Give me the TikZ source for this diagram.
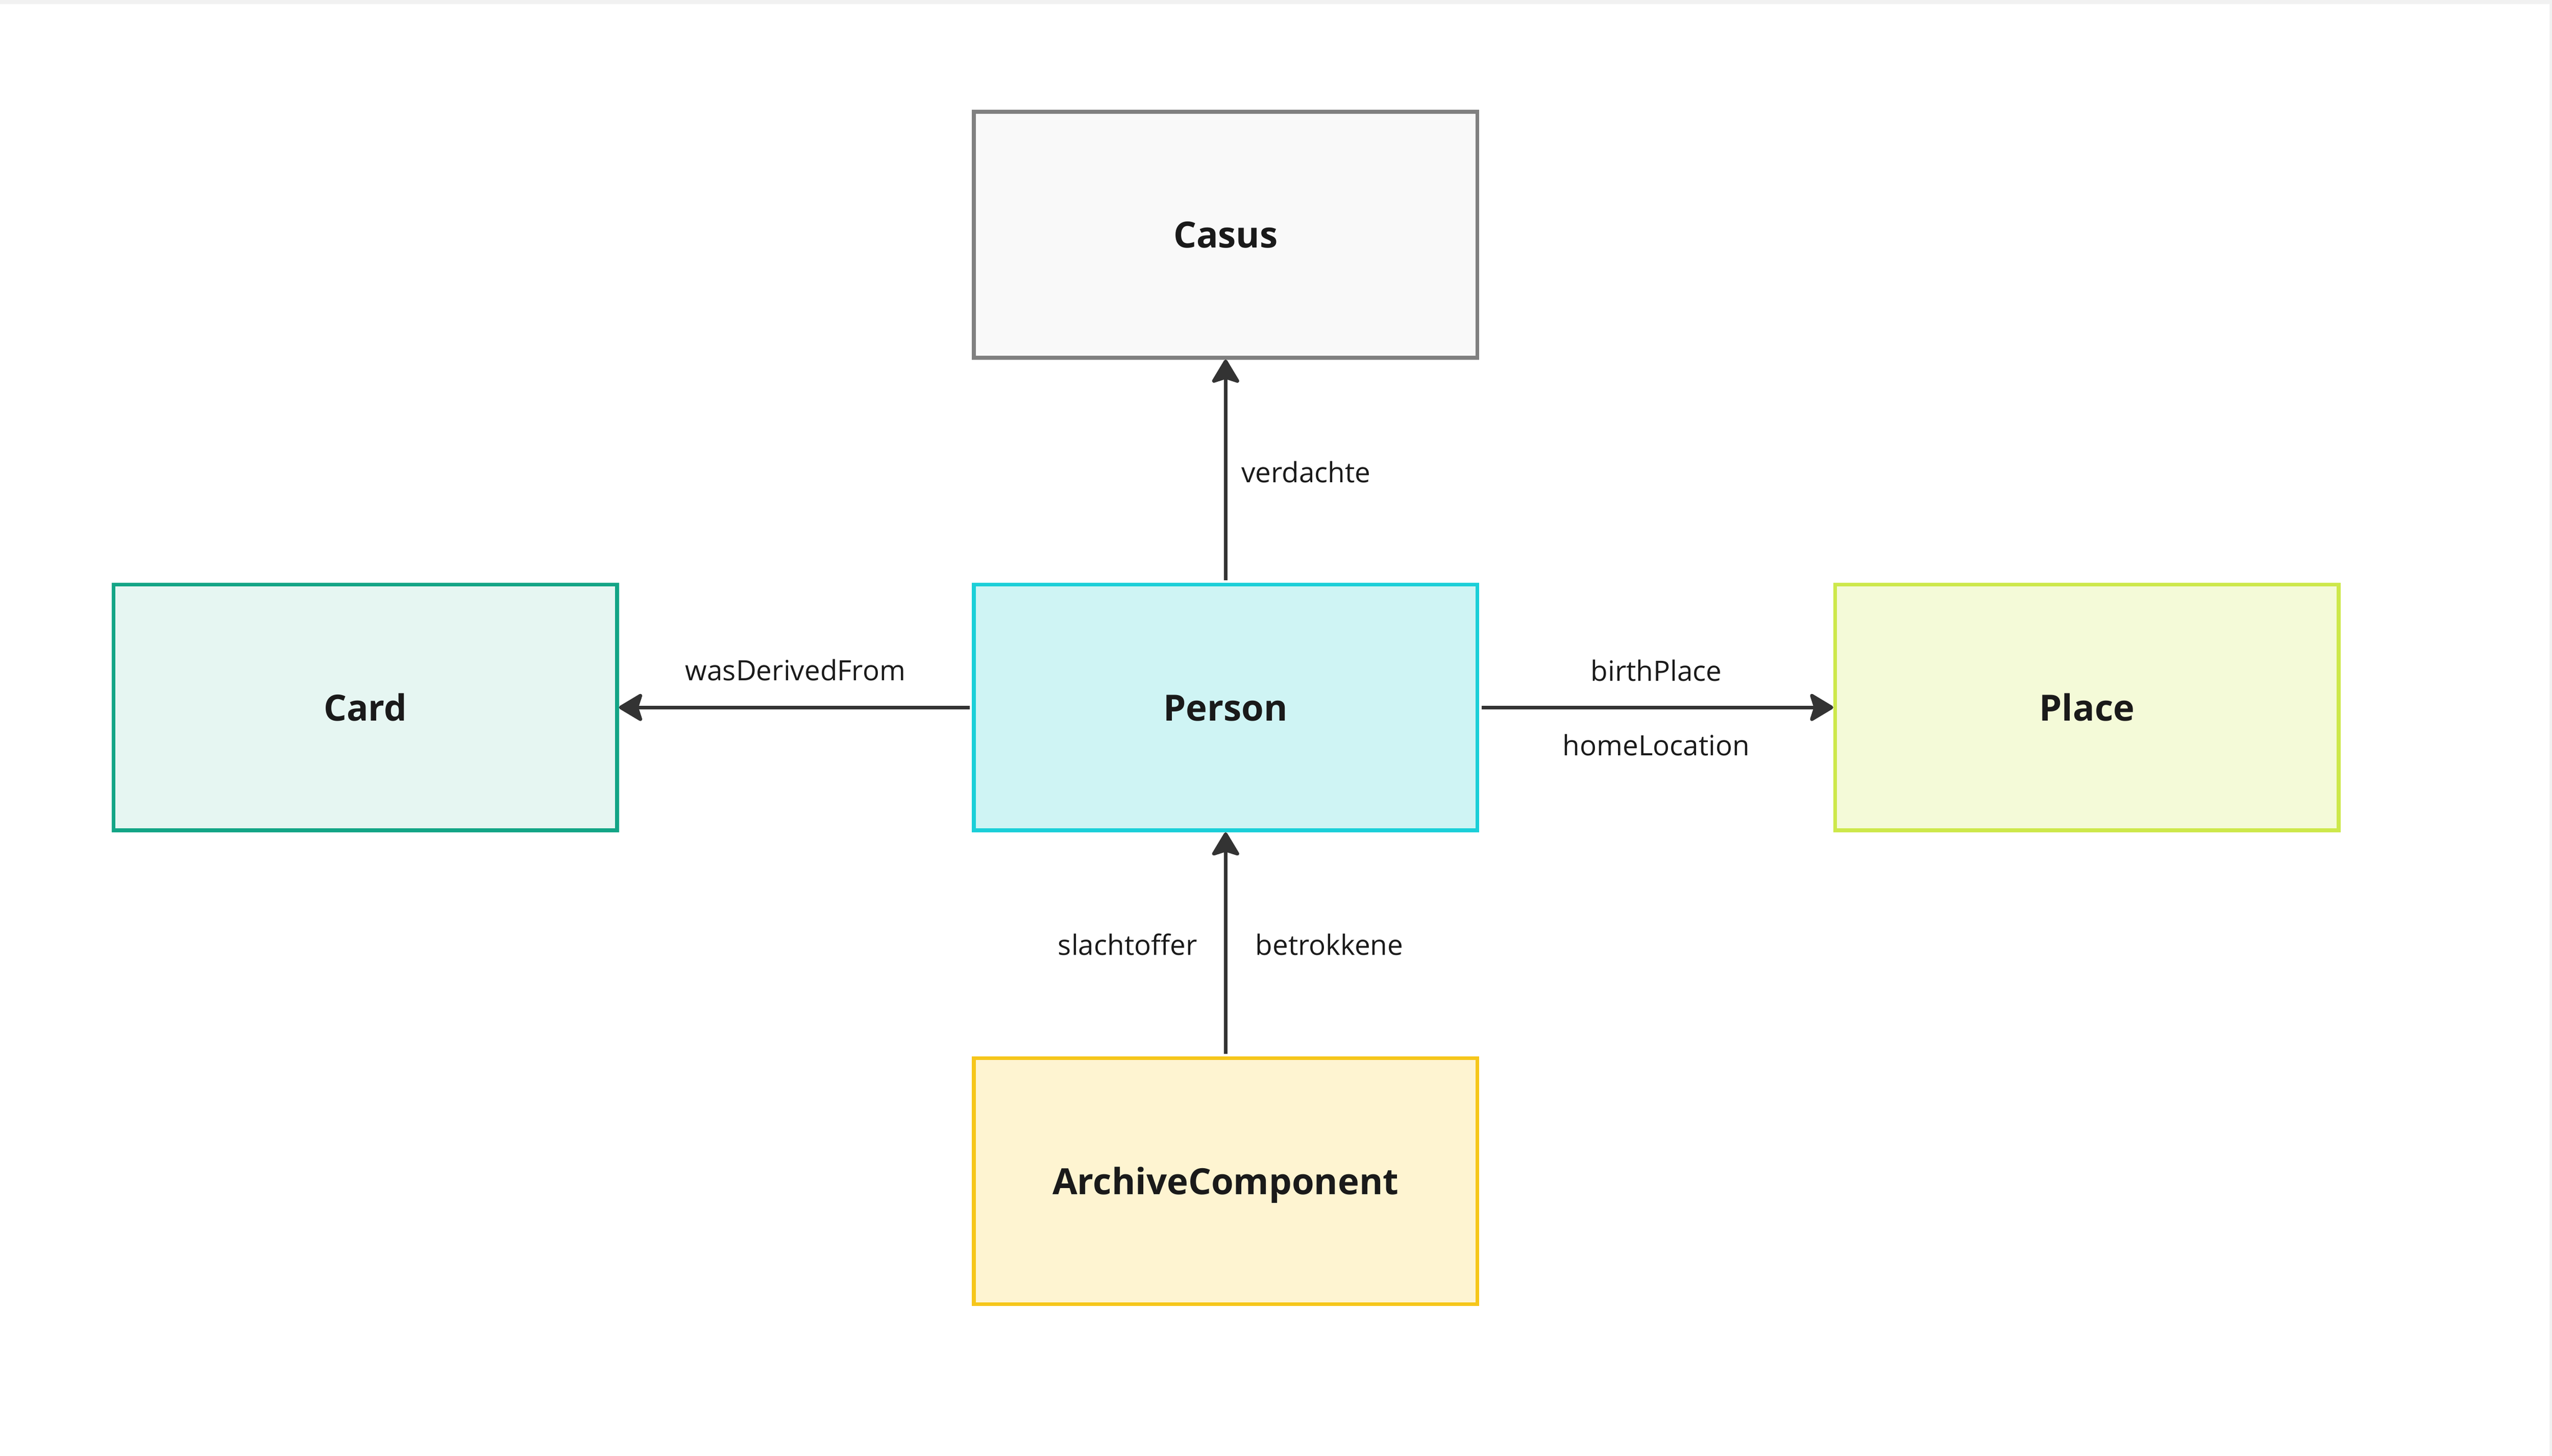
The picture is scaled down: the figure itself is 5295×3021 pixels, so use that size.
\documentclass[tikz,border=0pt]{standalone}
\usepackage{fontspec}
\setmainfont{Open Sans}
\usetikzlibrary{arrows.meta}
\definecolor{casusfill}{HTML}{F9F9F9}
\definecolor{casusdraw}{HTML}{808080}
\definecolor{personfill}{HTML}{CFF4F4}
\definecolor{persondraw}{HTML}{1BCFD8}
\definecolor{cardfill}{HTML}{E6F6F2}
\definecolor{carddraw}{HTML}{13A586}
\definecolor{placefill}{HTML}{F4FAD8}
\definecolor{placedraw}{HTML}{CDE84B}
\definecolor{archfill}{HTML}{FEF4D1}
\definecolor{archdraw}{HTML}{F6C61A}
\definecolor{linedark}{HTML}{333333}
\definecolor{textdark}{HTML}{1A1A1A}
\definecolor{framegray}{HTML}{F1F1F1}
\begin{document}
\begin{tikzpicture}[x=0.01cm,y=-0.01cm,
  box/.style={draw, rectangle, line width=0.08cm, minimum width=10.44cm,
    minimum height=5.10cm, inner sep=0pt, text=textdark,
    font=\fontsize{21.3}{26}\selectfont\bfseries, text height=0.55cm, text depth=0pt},
  conn/.style={draw=linedark, line width=0.075cm,
    -{Stealth[length=0.54cm, width=0.64cm, inset=0.1cm, round]}},
  lbl/.style={font=\fontsize{16.5}{19}\selectfont, text=textdark, inner sep=0pt}]
\useasboundingbox (0,0) rectangle (5295,3021);
\fill[white] (0,0) rectangle (5295,3021);
\fill[framegray] (0,0) rectangle (5295,8);
\fill[framegray] (5290,0) rectangle (5295,3021);
\node[box, fill=casusfill, draw=casusdraw] (casus) at (2543,487) {Casus};
\node[box, fill=personfill, draw=persondraw] (person) at (2543,1468) {Person};
\node[box, fill=cardfill, draw=carddraw] (card) at (758,1468) {Card};
\node[box, fill=placefill, draw=placedraw] (place) at (4330,1468) {Place};
\node[box, fill=archfill, draw=archdraw] (arch) at (2543,2451) {ArchiveComponent};
\draw[conn, shorten <=0.05cm] (person.north) -- node[lbl, anchor=base west, xshift=0.29cm, yshift=-0.235cm]{verdachte} (casus.south);
\draw[conn, shorten <=0.05cm] (person.west) -- node[lbl, anchor=base, yshift=0.56cm]{wasDerivedFrom} (card.east);
\draw[conn, shorten <=0.05cm] (person.east) -- node[lbl, anchor=base, yshift=0.55cm]{birthPlace} node[lbl, anchor=base, yshift=-1.0cm]{homeLocation} (place.west);
\draw[conn, shorten <=0.05cm] (arch.north) -- node[lbl, anchor=base east, xshift=-0.55cm, yshift=-0.225cm]{slachtoffer} node[lbl, anchor=base west, xshift=0.58cm, yshift=-0.225cm]{betrokkene} (person.south);
\end{tikzpicture}
\end{document}
